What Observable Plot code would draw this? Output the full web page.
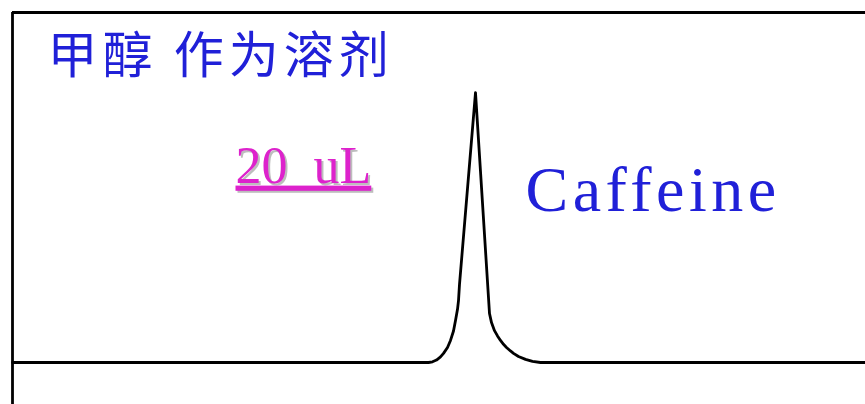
<!DOCTYPE html>
<html>
<head>
<meta charset="utf-8">
<script src="https://cdn.jsdelivr.net/npm/d3@7"></script>
<script src="https://cdn.jsdelivr.net/npm/@observablehq/plot@0.6"></script>
<style>
  html, body { margin: 0; padding: 0; background: #fff; }
</style>
</head>
<body>
<div id="chart"></div>
<script>
// Chromatogram trace (time in min, detector signal in arbitrary units)
const time   = [0, 4.16, 4.20, 4.24, 4.28, 4.31, 4.35, 4.38, 4.41, 4.43, 4.45, 4.46, 4.47, 4.63, 4.77, 4.79, 4.82, 4.85, 4.88, 4.91, 4.94, 4.98, 5.01, 5.06, 5.13, 5.20, 5.28, 8.53];
const signal = [0, 0,    0.2,  0.7,  1.6,  2.6,  4.3,  6.3,  9.0,  12,   15.2, 17.7, 22.3, 77.1, 14,   11.4, 9.1,  7.6,  6.3,  5.2,  4.3,  3.3,  2.6,  1.7,  0.9,  0.3,  0,    0];

// Annotation texts
const titleText    = ["甲醇 作为溶剂"];
const volumeText   = ["20  uL"];
const compoundText = ["Caffeine"];

const trace = time.map((t, i) => ({t, s: signal[i]}));

const blue = "#2020d8";
const magenta = "#dd22cc";

const chart = Plot.plot({
  width: 865,
  height: 404,
  marginLeft: 12,
  marginRight: 0,
  marginTop: 12,
  marginBottom: 0,
  x: {domain: [0, 8.53], axis: null},
  y: {domain: [-12, 100], axis: null},
  style: {background: "#fff"},
  marks: [
    Plot.ruleX([0], {stroke: "#000", strokeWidth: 2.8}),
    Plot.ruleY([100], {stroke: "#000", strokeWidth: 2.8}),
    Plot.line(trace, {x: "t", y: "s", stroke: "#000", strokeWidth: 2.8, curve: "linear", strokeLinejoin: "round"}),
    Plot.text(titleText, {
      x: 0.35, y: 82.6, text: d => d, textAnchor: "start", lineAnchor: "bottom",
      fill: blue, fontSize: 50, fontFamily: "Noto Sans CJK SC", className: "title"
    }),
    Plot.text(volumeText, {
      x: 2.23, y: 51.4, text: d => d, textAnchor: "start", lineAnchor: "bottom",
      fill: magenta, fontSize: 52, fontFamily: "Liberation Serif", className: "vol"
    }),
    Plot.text(compoundText, {
      x: 5.13, y: 43.4, text: d => d, textAnchor: "start", lineAnchor: "bottom",
      fill: blue, fontSize: 64, fontFamily: "Liberation Serif", className: "cmp"
    })
  ]
});

document.getElementById("chart").appendChild(chart);

d3.select(chart).selectAll(".title text, text.title").style("letter-spacing", "5px");
d3.select(chart).selectAll(".vol text, text.vol")
  .style("white-space", "pre")
  .attr("xml:space", "preserve")
  .style("text-decoration", "underline")
  .style("filter", "drop-shadow(2px 2px 0 #bdbdbd)");
d3.select(chart).selectAll(".cmp text, text.cmp").style("letter-spacing", "4.5px");
</script>
</body>
</html>
